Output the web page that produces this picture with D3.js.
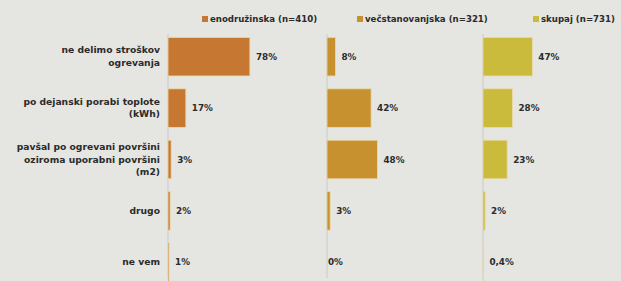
<!DOCTYPE html>
<html>
<head>
<meta charset="utf-8">
<script src="https://cdn.jsdelivr.net/npm/d3@7"></script>
<style>
  body { margin: 0; background: #e6e6e3; }
  svg text { font-family: "DejaVu Sans", sans-serif; font-weight: bold; fill: #2b2b2b; }
</style>
</head>
<body>
<div id="chart"></div>
<script>
// Chart size
const width = 621;
const height = 281;

// Categories (each label split into lines)
const categories = ["ne delimo stroškov ogrevanja", "po dejanski porabi toplote (kWh)", "pavšal po ogrevani površini oziroma uporabni površini (m2)", "drugo", "ne vem"];
const categoryLines = [
  ["ne delimo stroškov", "ogrevanja"],
  ["po dejanski porabi toplote", "(kWh)"],
  ["pavšal po ogrevani površini", "oziroma uporabni površini", "(m2)"],
  ["drugo"],
  ["ne vem"]
];

// Series
const seriesNames = ["enodružinska (n=410)", "večstanovanjska (n=321)", "skupaj (n=731)"];
const enodruzinska = [78, 17, 3, 2, 1];
const vecstanovanjska = [8, 42, 48, 3, 0];
const skupaj = [47, 28, 23, 2, 0.4];
const seriesValues = [enodruzinska, vecstanovanjska, skupaj];

const colors = ["#c67833", "#c8912f", "#cbbb3c"];
const panelStart = [168, 327, 483];

const svg = d3.select("#chart")
  .append("svg")
  .attr("width", width)
  .attr("height", height);

// background
svg.append("rect")
  .attr("width", width)
  .attr("height", height)
  .attr("fill", "#e5e5e2");

// Row scale
const y = d3.scaleBand()
  .domain(categories)
  .range([31, 288])
  .paddingInner(0.25)
  .paddingOuter(0.125);

// Category labels
const labels = svg.selectAll(".cat")
  .data(categories)
  .enter()
  .append("text")
  .attr("class", "cat")
  .attr("text-anchor", "end")
  .style("font-size", "9.2px");

labels.each(function(d, i) {
  const lines = categoryLines[i];
  const lineH = 12.5;
  const cy = y(d) + y.bandwidth() / 2;
  const top = cy - (lines.length - 1) * lineH / 2 + 3;
  d3.select(this).selectAll("tspan")
    .data(lines)
    .enter()
    .append("tspan")
    .attr("x", 160)
    .attr("y", (l, j) => top + j * lineH)
    .text(l => l);
});

const fmt = v => String(v).replace(".", ",") + "%";

// Panels
seriesValues.forEach(function(values, s) {
  const x = d3.scaleLinear()
    .domain([0, 100])
    .range([panelStart[s], panelStart[s] + 105]);

  const g = svg.append("g");

  // faint axis line
  g.append("line")
    .attr("x1", x(0)).attr("x2", x(0))
    .attr("y1", 34).attr("y2", 278)
    .attr("stroke", "#c9c9c6")
    .attr("stroke-width", 1);

  g.selectAll("rect")
    .data(values)
    .enter()
    .append("rect")
    .attr("x", x(0))
    .attr("y", (d, i) => y(categories[i]))
    .attr("width", d => x(d) - x(0))
    .attr("height", y.bandwidth())
    .attr("fill", colors[s])
    .attr("stroke", "#ead9a8")
    .attr("stroke-width", 0.8);

  g.selectAll("text")
    .data(values)
    .enter()
    .append("text")
    .attr("x", d => x(d) + (d > 0 ? 6 : 1))
    .attr("y", (d, i) => y(categories[i]) + y.bandwidth() / 2 + 3)
    .style("font-size", "8.8px")
    .text(d => fmt(d));
});

// Legend
const legendX = [202, 357, 533];
const legend = svg.selectAll(".legend")
  .data(seriesNames)
  .enter()
  .append("g")
  .attr("class", "legend")
  .attr("transform", (d, i) => `translate(${legendX[i]},19)`);

legend.append("rect")
  .attr("x", 0)
  .attr("y", -3)
  .attr("width", 6)
  .attr("height", 6)
  .attr("fill", (d, i) => colors[i]);

legend.append("text")
  .attr("x", 8)
  .attr("y", 3)
  .style("font-size", "8.6px")
  .text(d => d);
</script>
</body>
</html>
